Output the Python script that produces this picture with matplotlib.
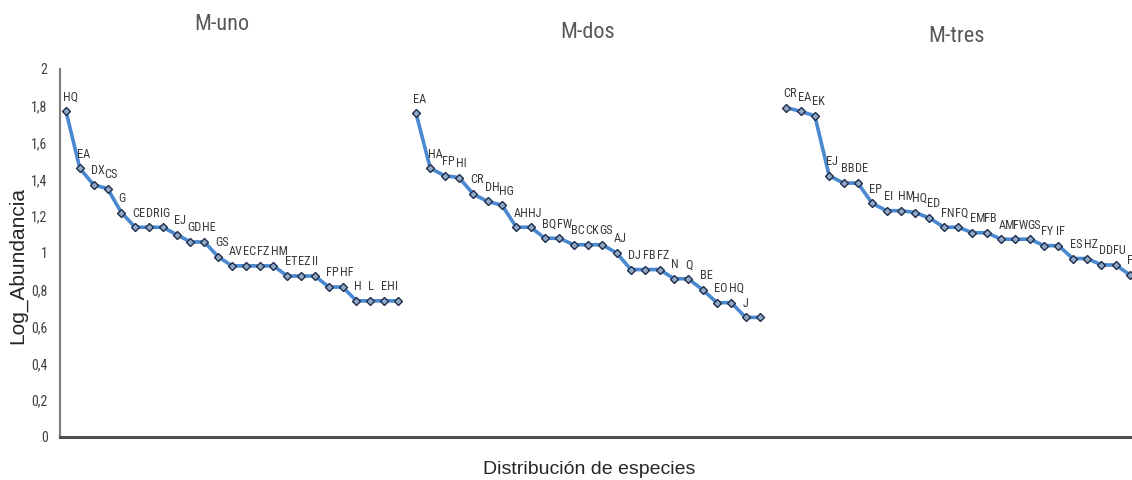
import numpy as np
import matplotlib
matplotlib.use("Agg")
from matplotlib import pyplot as plt
from matplotlib import font_manager as fm

# species rank / abundance for each sample
uno_names = ["HQ", "EA", "DX", "CS", "G", "CE", "DR", "IG", "EJ", "GD", "HE", "GS", "AV",
             "EC", "FZ", "HM", "ET", "EZ", "II", "FP", "HF", "H", "L", "EH", "I"]
uno_vals = [1.77, 1.46, 1.37, 1.35, 1.22, 1.14, 1.14, 1.14, 1.10, 1.06, 1.06, 0.98, 0.93,
            0.93, 0.93, 0.93, 0.875, 0.875, 0.875, 0.815, 0.815, 0.74, 0.74, 0.74, 0.74]

dos_names = ["EA", "HA", "FP", "HI", "CR", "DH", "HG", "AH", "HJ", "BQ", "FW", "BC", "CK",
             "GS", "AJ", "DJ", "FB", "FZ", "N", "Q", "BE", "EO", "HQ", "J", ""]
dos_vals = [1.76, 1.46, 1.42, 1.41, 1.32, 1.28, 1.26, 1.14, 1.14, 1.08, 1.08, 1.045, 1.045,
            1.045, 1.00, 0.91, 0.91, 0.91, 0.86, 0.86, 0.80, 0.73, 0.73, 0.65, 0.65]

tres_names = ["CR", "EA", "EK", "EJ", "BB", "DE", "EP", "EI", "HM", "HQ", "ED", "FN", "FQ",
              "EM", "FB", "AM", "FW", "GS", "FY", "IF", "ES", "HZ", "DD", "FU", "F"]
tres_vals = [1.79, 1.77, 1.745, 1.42, 1.38, 1.38, 1.27, 1.23, 1.23, 1.22, 1.19, 1.14, 1.14,
             1.11, 1.11, 1.075, 1.075, 1.075, 1.04, 1.04, 0.97, 0.97, 0.935, 0.935, 0.88]

titles = ["M-uno", "M-dos", "M-tres"]
yticks = [0, 0.2, 0.4, 0.6, 0.8, 1, 1.2, 1.4, 1.6, 1.8, 2]

# pick a narrow face if one is installed
installed = {f.name for f in fm.fontManager.ttflist}
narrow = "DejaVu Sans"
stretch = "normal"
for nm in ["Liberation Sans Narrow", "Roboto Condensed", "Open Sans Condensed",
           "DejaVu Sans Condensed"]:
    if nm in installed:
        narrow = nm
        break
else:
    if any(f.name == "DejaVu Sans" and f.stretch == "condensed" for f in fm.fontManager.ttflist):
        stretch = "condensed"

fig = plt.figure(figsize=(11.32, 4.8), dpi=100)
ax = fig.add_axes([60 / 1132, 1 - 437 / 480, 1 - 60 / 1132, 368 / 480])

line_col = "#4a88d0"
edge_col = "#1f2d4a"
lab_col = "#3a3a3a"

panels = [(uno_names, uno_vals, 0.42, 0.965),
          (dos_names, dos_vals, 24.84, 1.0),
          (tres_names, tres_vals, 50.67, 1.0)]

for names, vals, start, step in panels:
    x = start + np.arange(len(vals)) * step
    ax.plot(x, vals, color=line_col, lw=2.6, marker="D", ms=4.2,
            mfc="#8fa8c8", mec=edge_col, mew=1.0, clip_on=False, zorder=3)
    for xi, yi, nm in zip(x, vals, names):
        ax.annotate(nm, (xi, yi), xytext=(-2, 5.5), textcoords="offset points",
                    ha="left", va="bottom", fontsize=8.8, color=lab_col,
                    family=narrow, fontstretch=stretch, annotation_clip=False)

ax.set_xlim(0, 74.8)
ax.set_ylim(0, 2)
ax.set_yticks(yticks)
ax.set_yticklabels([("%g" % t).replace(".", ",") for t in yticks],
                   family=narrow, fontstretch=stretch, fontsize=10, color="#404040")
ax.set_xticks([])
ax.tick_params(axis="y", length=0, pad=9)

for s in ["top", "right"]:
    ax.spines[s].set_visible(False)
ax.spines["left"].set_color("#808080")
ax.spines["left"].set_linewidth(1.6)
ax.spines["bottom"].set_color("#505050")
ax.spines["bottom"].set_linewidth(2.2)

# sample titles
for t, xp, yp in zip(titles, [222, 588, 957], [24, 33, 36]):
    fig.text(xp / 1132, 1 - yp / 480, t, ha="center", va="center", fontsize=16,
             color="#595959", family=narrow, fontstretch=stretch)

fig.text(589 / 1132, 1 - 470 / 480, "Distribución de especies", ha="center", va="center",
         fontsize=14, color="#262626", family="Liberation Sans")
fig.text(18 / 1132, 1 - 265 / 480, "Log_Abundancia", ha="center", va="center",
         rotation=90, fontsize=15, color="#262626", family="Liberation Sans")

fig.savefig("out.png", dpi=100)
